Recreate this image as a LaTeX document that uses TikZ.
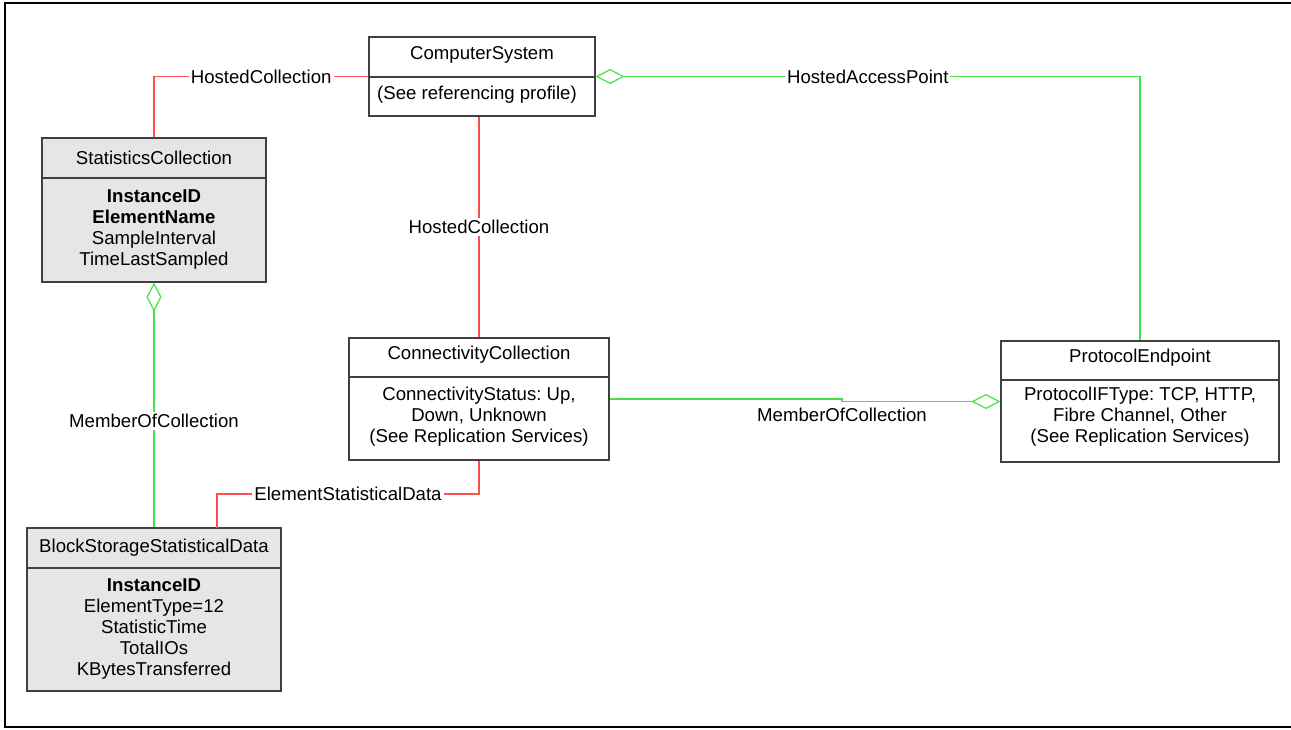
\documentclass[tikz,border=0pt]{standalone}
\usepackage{fontspec}
\setmainfont{Liberation Sans}
\usetikzlibrary{arrows.meta}
\definecolor{assocred}{RGB}{250,80,80}
\definecolor{aggrgreen}{RGB}{70,225,70}
\definecolor{classgray}{RGB}{230,230,230}
\frenchspacing
\begin{document}
\begin{tikzpicture}[x=0.5pt, y=-0.5pt,
  every node/.style={font=\fontsize{9.3}{10.5}\selectfont, inner sep=0pt},
  classbox/.style={draw=black!75, line width=0.6pt, fill=white, rectangle},
  grayclass/.style={classbox, fill=classgray},
  divider/.style={draw=black!75, line width=0.6pt},
  assoc/.style={draw=assocred, line width=0.6pt},
  aggr/.style={draw=aggrgreen, line width=0.6pt},
  diam/.style={-{Diamond[open, length=14.5pt, width=7.5pt]}},
  lbl/.style={fill=white, inner sep=1pt}]

\useasboundingbox (0,0) rectangle (1291,729);

% Frame
\draw[line width=1.3pt] (1291,3) -- (5,3) -- (5,727) -- (1291,727);

% Class boxes
\node[classbox, minimum width=113pt, minimum height=39.5pt] (cs) at (482,76.5) {};
\node[grayclass, minimum width=112pt, minimum height=72pt] (sc) at (154,210) {};
\node[classbox, minimum width=130pt, minimum height=61pt] (cc) at (479,399) {};
\node[classbox, minimum width=139pt, minimum height=60.5pt] (pe) at (1140,401.5) {};
\node[grayclass, minimum width=127pt, minimum height=81.5pt] (bs) at (154,609.5) {};

% Dividers
\draw[divider] (cs.west |- 0,77) -- (cs.east |- 0,77);
\draw[divider] (sc.west |- 0,178) -- (sc.east |- 0,178);
\draw[divider] (cc.west |- 0,377) -- (cc.east |- 0,377);
\draw[divider] (pe.west |- 0,380) -- (pe.east |- 0,380);
\draw[divider] (bs.west |- 0,568) -- (bs.east |- 0,568);

% Class names
\node (csName) at (482,55) {ComputerSystem};
\node (scName) at (154,158) {StatisticsCollection};
\node (ccName) at (479,355) {ConnectivityCollection};
\node (peName) at (1140,358) {ProtocolEndpoint};
\node (bsName) at (154,548) {BlockStorageStatisticalData};

% Attributes
\node (csAttr) at (477,95) {(See referencing profile)};
\node[align=center] (scAttr) at (154,229.5) {\textbf{InstanceID}\\ \textbf{ElementName}\\ SampleInterval\\ TimeLastSampled};
\node[align=center] (ccAttr) at (479,416.5) {ConnectivityStatus: Up,\\ Down, Unknown\\ (See Replication Services)};
\node[align=center] (peAttr) at (1140,417) {ProtocolIFType: TCP, HTTP,\\ Fibre Channel, Other\\ (See Replication Services)};
\node[align=center] (bsAttr) at (154,629.5) {\textbf{InstanceID}\\ ElementType=12\\ StatisticTime\\ TotalIOs\\ KBytesTransferred};

% Associations
\draw[assoc] (sc.north) |- node[lbl, pos=0.75] {HostedCollection} (cs.west);
\draw[assoc] (cc.north |- cs.south) -- node[lbl, pos=0.5] {HostedCollection} (cc.north);
\coordinate (esdEnd) at (217,528);
\draw[assoc] (cc.south) -- (cc.south |- 0,494) -| node[lbl, pos=0.25] {ElementStatisticalData} (esdEnd);

% Aggregations
\draw[aggr, diam] (pe.north) |- node[lbl, pos=0.75] {HostedAccessPoint} (cs.east);
\draw[aggr, diam] (bs.north) -- node[lbl, pos=0.435] {MemberOfCollection} (sc.south);
\coordinate (jog) at (842,399);
\draw[aggr, diam] (cc.east) -- (jog) |- node[below=3pt, pos=0.5] {MemberOfCollection} (pe.west);

\end{tikzpicture}
\end{document}
